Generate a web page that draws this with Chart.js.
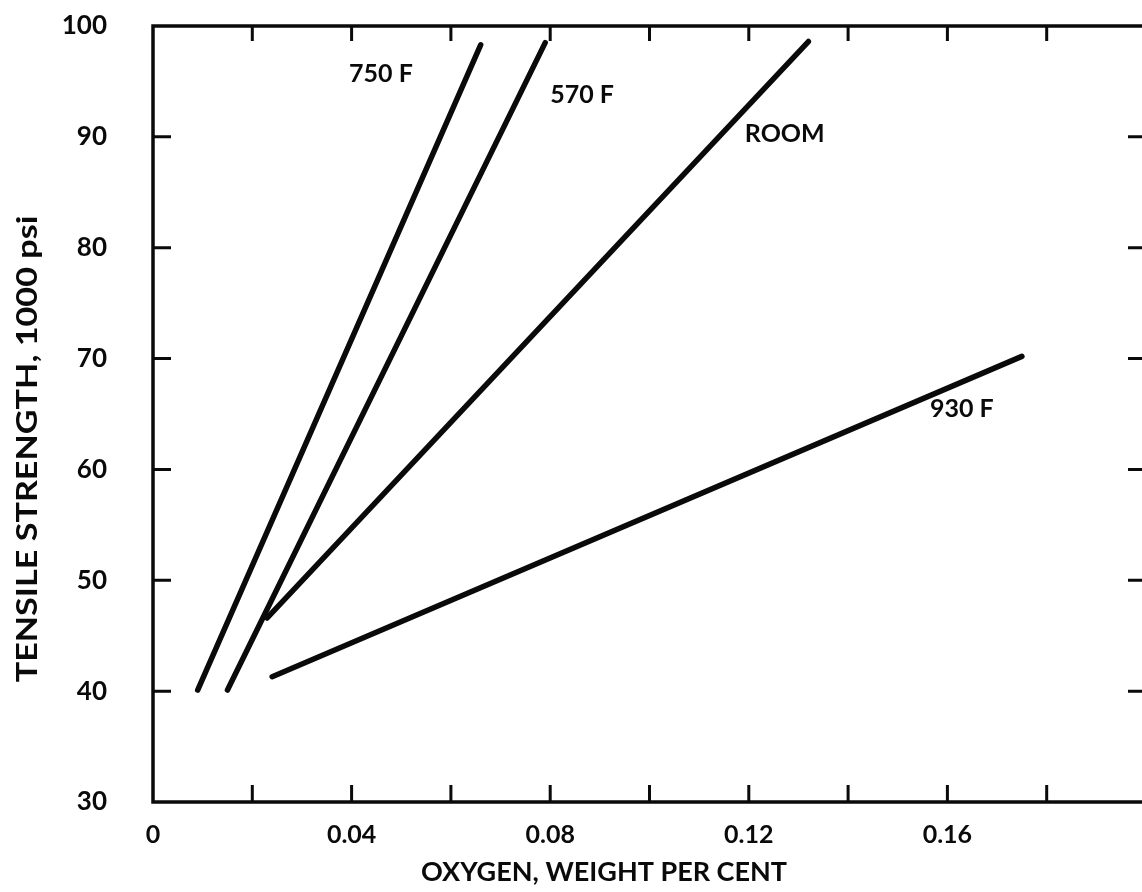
<!DOCTYPE html>
<html>
<head>
<meta charset="utf-8">
<script src="https://cdn.jsdelivr.net/npm/chart.js@4.4.1/dist/chart.umd.min.js"></script>
<style>
  body { margin: 0; background: #fff; }
  #wrap { width: 1142px; height: 892px; overflow: hidden; }
</style>
</head>
<body>
<div id="wrap"><canvas id="chart" width="1168" height="892"></canvas></div>
<script>
// valores
const oxy750 = [0.009, 0.066];
const ts750 = [40.1, 98.3];
const oxy570 = [0.015, 0.079];
const ts570 = [40.1, 98.5];
const oxyRoom = [0.023, 0.132];
const tsRoom = [46.6, 98.6];
const oxy930 = [0.024, 0.175];
const ts930 = [41.3, 70.2];

const curveNames = ['750 F', '570 F', 'ROOM', '930 F'];
// donde va cada etiqueta (en unidades del grafico)
const nameX = [0.0395, 0.080, 0.1192, 0.1565];
const nameY = [94.95, 93.06, 89.54, 64.74];

const FONT = 'Lato, "DejaVu Sans", sans-serif';

function pts(xs, ys) {
    return xs.map((x, i) => ({ x: x, y: ys[i] }));
}

function lineSet(label, xs, ys) {
    return {
        label: label,
        data: pts(xs, ys),
        borderColor: '#0a0a0a',
        borderWidth: 5.5,
        borderCapStyle: 'round',
        pointRadius: 0,
        fill: false
    };
}

// marco + ticks hacia adentro + textos
const framePlugin = {
    id: 'frame',
    afterDraw(chart) {
        const ctx = chart.ctx;
        const a = chart.chartArea;
        const xs = chart.scales.x;
        const ys = chart.scales.y;
        ctx.save();
        ctx.strokeStyle = '#0a0a0a';
        ctx.lineWidth = 3.5;
        ctx.strokeRect(a.left, a.top, a.right - a.left, a.bottom - a.top);

        ctx.lineWidth = 3;
        ctx.beginPath();
        xs.ticks.forEach(t => {
            if (t.value <= xs.min || t.value >= xs.max) return;
            const px = xs.getPixelForValue(t.value);
            ctx.moveTo(px, a.bottom); ctx.lineTo(px, a.bottom - 17);
            ctx.moveTo(px, a.top); ctx.lineTo(px, a.top + 15);
        });
        ys.ticks.forEach(t => {
            if (t.value <= ys.min || t.value >= ys.max) return;
            const py = ys.getPixelForValue(t.value);
            ctx.moveTo(a.left, py); ctx.lineTo(a.left + 18, py);
            ctx.moveTo(a.right, py); ctx.lineTo(a.right - 18, py);
        });
        ctx.stroke();

        ctx.fillStyle = '#0a0a0a';
        ctx.font = 'bold 25px ' + FONT;
        ctx.textAlign = 'left';
        ctx.textBaseline = 'alphabetic';
        curveNames.forEach((n, i) => {
            ctx.fillText(n, xs.getPixelForValue(nameX[i]), ys.getPixelForValue(nameY[i]));
        });

        ctx.textAlign = 'center';
        ctx.font = 'bold 27px ' + FONT;
        ctx.fillText('OXYGEN, WEIGHT PER CENT', 604, 881);

        ctx.font = 'bold 28px ' + FONT;
        ctx.translate(37, 449);
        ctx.rotate(-Math.PI / 2);
        ctx.scale(1.22, 1);
        ctx.fillText('TENSILE STRENGTH, 1000 psi', 0, 0);
        ctx.restore();
    }
};

new Chart(document.getElementById('chart'), {
    type: 'line',
    data: {
        datasets: [
            lineSet('750 F', oxy750, ts750),
            lineSet('570 F', oxy570, ts570),
            lineSet('ROOM', oxyRoom, tsRoom),
            lineSet('930 F', oxy930, ts930)
        ]
    },
    options: {
        responsive: false,
        animation: false,
        devicePixelRatio: 1,
        layout: { padding: { top: 26, right: 22, left: 0, bottom: 0 } },
        plugins: { legend: { display: false }, tooltip: { enabled: false } },
        scales: {
            x: {
                type: 'linear',
                min: 0,
                max: 0.2,
                grid: { display: false },
                border: { display: false },
                afterFit(s) { s.height = 90; s.paddingLeft = 0; s.paddingRight = 0; },
                ticks: {
                    stepSize: 0.02,
                    autoSkip: false,
                    maxRotation: 0,
                    padding: 10,
                    color: '#0a0a0a',
                    font: { family: FONT, size: 25, weight: 'bold' },
                    callback(v) {
                        const k = Math.round(v * 100);
                        if (k % 4 !== 0 || k >= 20) return '';
                        return k === 0 ? '0' : (k / 100).toFixed(2);
                    }
                }
            },
            y: {
                min: 30,
                max: 100,
                grid: { display: false },
                border: { display: false },
                afterFit(s) { s.width = 153; s.paddingTop = 0; s.paddingBottom = 0; },
                ticks: {
                    stepSize: 10,
                    padding: 38,
                    color: '#0a0a0a',
                    font: { family: FONT, size: 26, weight: 'bold' }
                }
            }
        }
    },
    plugins: [framePlugin]
});
</script>
</body>
</html>
